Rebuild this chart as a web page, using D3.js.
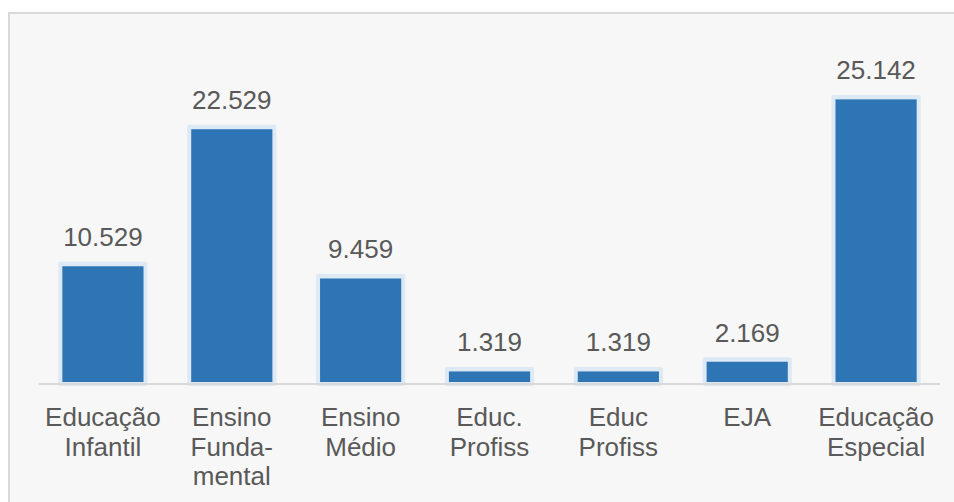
<!DOCTYPE html>
<html><head><meta charset="utf-8">
<script src="https://cdn.jsdelivr.net/npm/d3@7"></script>
<style>html,body{margin:0;padding:0;background:#fff;}svg{display:block;}</style>
</head><body>
<svg id="chart" width="954" height="502"></svg>
<script>
const categories = [
  ["Educação","Infantil"],
  ["Ensino","Funda-","mental"],
  ["Ensino","Médio"],
  ["Educ.","Profiss"],
  ["Educ","Profiss"],
  ["EJA"],
  ["Educação","Especial"]
];
const values = [10.529, 22.529, 9.459, 1.319, 1.319, 2.169, 25.142];
const valueLabels = ["10.529","22.529","9.459","1.319","1.319","2.169","25.142"];

const svg = d3.select("#chart");
const W = 954, H = 502;
svg.append("rect").attr("x",0).attr("y",0).attr("width",W).attr("height",H).attr("fill","#fff");
svg.append("rect").attr("x",9).attr("y",13).attr("width",W).attr("height",H)
  .attr("fill","#f7f7f7").attr("stroke","#d9d9d9").attr("stroke-width",2);

const idx = d3.range(values.length);
const x = d3.scaleBand().domain(idx).range([38.5, 940.5]).paddingInner(0.37).paddingOuter(0.185);
const y = d3.scaleLinear().domain([0, 28]).range([386.5, 386.5 - 28*11.42]);
const barBottom = 382;
const font = "'Liberation Sans', Arial, sans-serif";

// outer light border
svg.append("g").selectAll("rect").data(idx).join("rect")
  .attr("x", i => x(i) - 4)
  .attr("y", i => y(values[i]) - 4.5)
  .attr("width", x.bandwidth() + 8)
  .attr("height", i => barBottom + 4 - (y(values[i]) - 4.5))
  .attr("rx", 2)
  .attr("fill", "#dde9f5");

// axis line
svg.append("line").attr("x1",38.5).attr("x2",940).attr("y1",384).attr("y2",384)
  .attr("stroke","#d9d9d9").attr("stroke-width",2);

// bar fill
svg.append("g").selectAll("rect").data(idx).join("rect")
  .attr("x", i => x(i))
  .attr("y", i => y(values[i]))
  .attr("width", x.bandwidth())
  .attr("height", i => barBottom - y(values[i]))
  .attr("fill", "#2e75b6");

// value labels
svg.append("g").selectAll("text").data(idx).join("text")
  .attr("x", i => x(i) + x.bandwidth()/2)
  .attr("y", i => y(values[i]) - 20)
  .attr("text-anchor","middle")
  .attr("font-family", font)
  .attr("font-size", 26)
  .attr("fill","#595959")
  .text(i => valueLabels[i]);

// category labels
const cg = svg.append("g").selectAll("text").data(idx).join("text")
  .attr("x", i => x(i) + x.bandwidth()/2)
  .attr("y", 426)
  .attr("text-anchor","middle")
  .attr("font-family", font)
  .attr("font-size", 26)
  .attr("fill","#595959");
cg.each(function(i){
  const t = d3.select(this);
  categories[i].forEach((line, k) => {
    t.append("tspan").attr("x", x(i) + x.bandwidth()/2).attr("dy", k === 0 ? 0 : 29.5).text(line);
  });
});
</script>
</body></html>
